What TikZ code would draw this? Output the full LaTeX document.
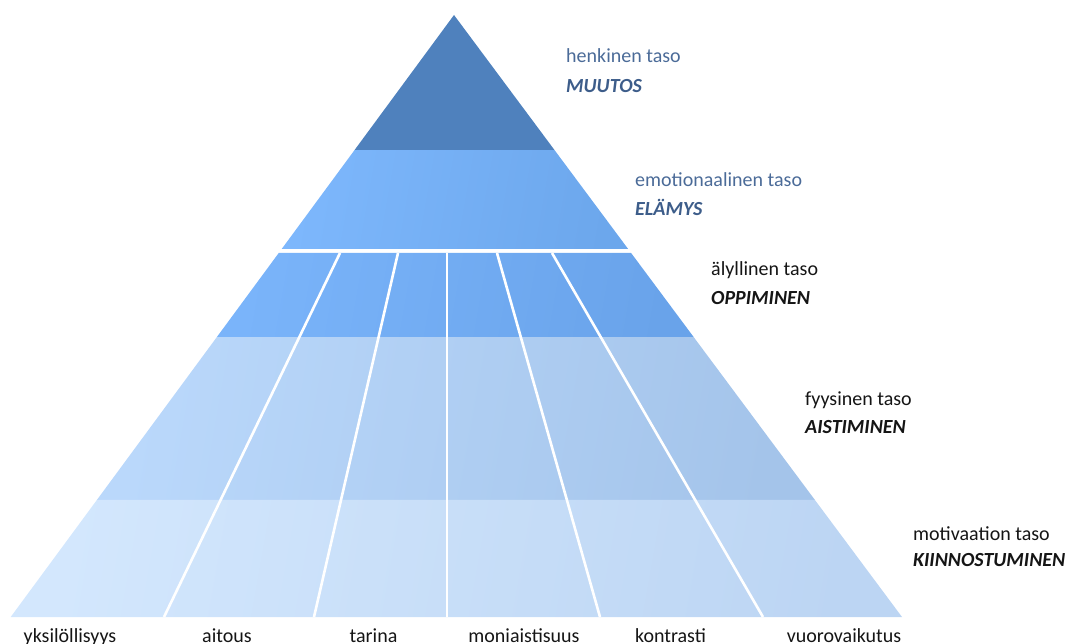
\documentclass[tikz,border=0pt]{standalone}
\usepackage{fontspec}
\setmainfont{Carlito}
\usetikzlibrary{calc}
\definecolor{tierA}{HTML}{4F81BD}
\definecolor{tierBl}{HTML}{7DB7FC}
\definecolor{tierBr}{HTML}{6CA7EC}
\definecolor{tierCl}{HTML}{7AB4FA}
\definecolor{tierCr}{HTML}{69A3EA}
\definecolor{tierDl}{HTML}{BAD8FB}
\definecolor{tierDr}{HTML}{A4C4EA}
\definecolor{tierEl}{HTML}{D3E7FD}
\definecolor{tierEr}{HTML}{BCD5F3}
\definecolor{slate}{HTML}{4B6B98}
\definecolor{slatedark}{HTML}{3D5D8A}
\definecolor{ink}{HTML}{151515}
\begin{document}
\begin{tikzpicture}[x=1pt,y=-1pt,
  divider/.style={draw=white, line width=2.6pt},
  lvl/.style={anchor=base west, inner sep=0pt, font=\fontsize{20}{24}\selectfont},
  lvlhead/.style={anchor=base west, inner sep=0pt, font=\fontsize{20}{24}\selectfont\bfseries\itshape},
  item/.style={anchor=base, inner sep=0pt, font=\fontsize{20}{24}\selectfont, text=ink}]
\useasboundingbox (0,0) rectangle (1070,644);

% outline of the pyramid
\coordinate (apex) at (454,15);
\coordinate (bl) at (10.7,617);
\coordinate (br) at (902,617);

% points on the two slanted sides at a fraction of the height
\newcommand\pyrlevel[2]{%
  \coordinate (#1L) at ($(apex)!#2!(bl)$);
  \coordinate (#1R) at ($(apex)!#2!(br)$);}
\pyrlevel{a}{0.2243}
\pyrlevel{b}{0.3887}
\pyrlevel{c}{0.3953}
\pyrlevel{d}{0.5349}
\pyrlevel{e}{0.8056}

% tiers, from the top down
\fill[tierA] (apex) -- (aR) -- (aL) -- cycle;
\shade[left color=tierBl, right color=tierBr, shading angle=80]
  (aL) -- (aR) -- (bR) -- (bL) -- cycle;
\shade[left color=tierCl, right color=tierCr, shading angle=80]
  (cL) -- (cR) -- (dR) -- (dL) -- cycle;
\shade[left color=tierDl, right color=tierDr, shading angle=80]
  (dL) -- (dR) -- (eR) -- (eL) -- cycle;
\shade[left color=tierEl, right color=tierEr, shading angle=80]
  (eL) -- (eR) -- (br) -- (bl) -- cycle;

% column dividers through the three lower tiers
\coordinate (t1) at (340,253);  \coordinate (u1) at (164,617);
\coordinate (t2) at (398,253);  \coordinate (u2) at (314,617);
\coordinate (t3) at (447,253);  \coordinate (u3) at (447,617);
\coordinate (t4) at (497,253);  \coordinate (u4) at (600,617);
\coordinate (t5) at (552,253);  \coordinate (u5) at (763,617);
\foreach \k in {1,...,5}{\draw[divider] (t\k) -- (u\k);}

% level names on the right
\node[lvl, text=slate]           (n1) at (566,63)    {henkinen taso};
\node[lvlhead, text=slatedark]   (h1) at (566,92.5)  {MUUTOS};
\node[lvl, text=slate]           (n2) at (635,187)   {emotionaalinen taso};
\node[lvlhead, text=slatedark]   (h2) at (635,216)   {ELÄMYS};
\node[lvl, text=ink]             (n3) at (711,276)   {älyllinen taso};
\node[lvlhead, text=ink]         (h3) at (711,304)   {OPPIMINEN};
\node[lvl, text=ink]             (n4) at (805,405.5) {fyysinen taso};
\node[lvlhead, text=ink]         (h4) at (805,433)   {AISTIMINEN};
\node[lvl, text=ink]             (n5) at (913,540.5) {motivaation taso};
\node[lvlhead, text=ink]         (h5) at (913,566)   {KIINNOSTUMINEN};

% column names under the base
\node[item] (c1) at (70,642)    {yksilöllisyys};
\node[item] (c2) at (227,642)   {aitous};
\node[item] (c3) at (373.5,642) {tarina};
\node[item] (c4) at (524,642)   {moniaistisuus};
\node[item] (c5) at (670.5,642) {kontrasti};
\node[item] (c6) at (844,642)   {vuorovaikutus};
\end{tikzpicture}
\end{document}
